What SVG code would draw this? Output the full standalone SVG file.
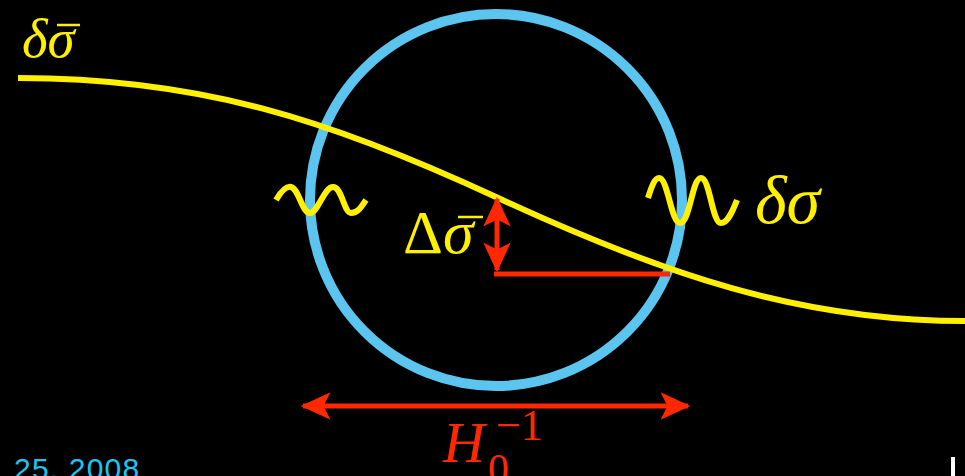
<svg xmlns="http://www.w3.org/2000/svg" width="965" height="476" viewBox="0 0 965 476">
<style>
.y{fill:none;stroke:#FFF000;stroke-width:6;stroke-linecap:butt}
.r{fill:none;stroke:#FF2800;stroke-width:5}
.ty{fill:#FFF000;font-family:"Liberation Serif",serif}
.tr{fill:#FF2800;font-family:"Liberation Serif",serif}
.it{font-style:italic}
</style>
<defs>
<marker id="ah" markerUnits="userSpaceOnUse" markerWidth="40" markerHeight="40" viewBox="-30 -15 35 30" refX="0" refY="0" orient="auto-start-reverse" overflow="visible">
<path d="M2,0 L-24,-12 L-18,0 L-24,12 Z" fill="#FF2800"/>
</marker>
</defs>
<rect width="965" height="476" fill="#000"/>
<g id="circle"><circle cx="496" cy="200" r="186" fill="none" stroke="#5BC5F0" stroke-width="10"/></g>
<g id="curve"><path class="y" d="M18,78 C200,78 330,120 496,197 S800,321 965,321"/></g>
<g id="wiggles">
<path class="y" d="M276,200 C282,190 287,186 291,187 C299,189 302,213 310,213 C318,213 324,187 333,187 C342,187 344,213 351,213 C358,213 362,206 366,200"/>
<path class="y" d="M648,198 C652,185 655,178 659,178 C668,178 671,223 680,223 C690,223 692,178 701,178 C710,178 712,223 721,223 C728,223 733,210 737,200"/>
</g>
<g id="connectors">
<line class="r" x1="497" y1="199" x2="497" y2="270" marker-start="url(#ah)" marker-end="url(#ah)"/>
<line class="r" x1="494" y1="274" x2="670" y2="274"/>
<line class="r" x1="303" y1="406" x2="688" y2="406" marker-start="url(#ah)" marker-end="url(#ah)"/>
</g>
<g id="label-dsigmabar-top">
<text class="ty it" x="22" y="57" font-size="55">δσ</text>
<line x1="57" y1="25" x2="80" y2="25" stroke="#FFF000" stroke-width="2.5"/>
</g>
<g id="label-Dsigmabar">
<text class="ty" x="403" y="253" font-size="62">Δ<tspan class="it">σ</tspan></text>
<line x1="458" y1="217" x2="483" y2="217" stroke="#FFF000" stroke-width="2.5"/>
</g>
<g id="label-dsigma"><text class="ty it" x="755" y="223" font-size="68">δσ</text></g>
<g id="label-H0">
<text class="tr" x="443" y="462" font-size="58"><tspan class="it">H</tspan></text>
<text class="tr" x="488" y="483" font-size="42">0</text>
<text class="tr" x="496" y="440" font-size="44">−1</text>
</g>
<g id="footer">
<text x="14" y="479" font-family="'Liberation Sans',sans-serif" font-size="30" fill="#1AC6F2" letter-spacing="1.2">25, 2008</text>
<rect x="951" y="457" width="4" height="19" fill="#FFFFFF"/>
</g>
</svg>
